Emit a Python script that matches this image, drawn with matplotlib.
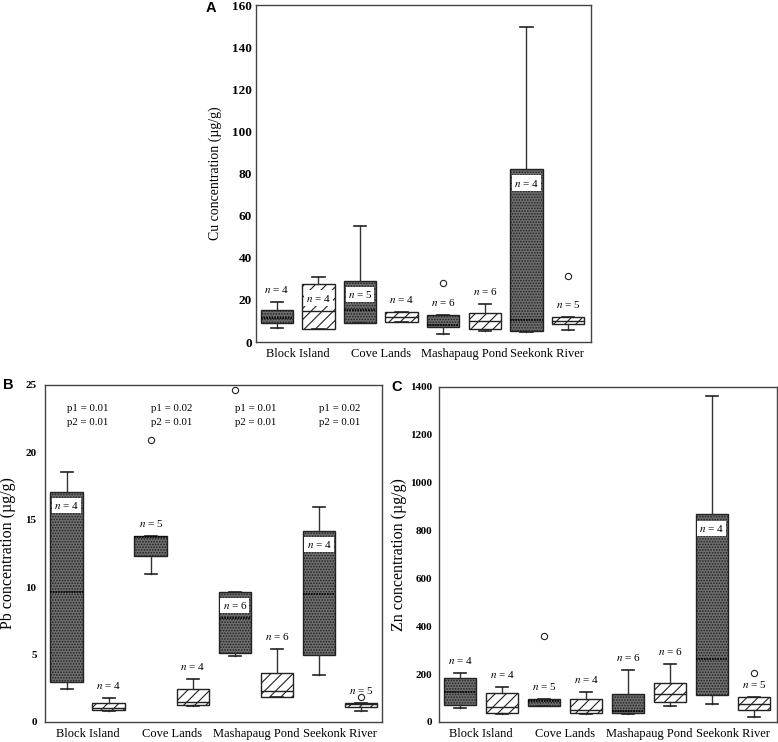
import matplotlib
matplotlib.use('Agg')
import matplotlib.pyplot as plt
import matplotlib.transforms as mtransforms

plt.rcParams['font.family'] = ['Liberation Serif', 'DejaVu Serif']
plt.rcParams['mathtext.fontset'] = 'stix'
plt.rcParams['hatch.linewidth'] = 0.8

sites = ['Block Island', 'Cove Lands', 'Mashapaug Pond', 'Seekonk River']
n_samples = [4, 4, 5, 4, 6, 6, 4, 5]
dark = [True, False, True, False, True, False, True, False]

# A - Cu
cu_whislo = [6.8, 6.0, 9.0, 9.4, 3.8, 5.4, 4.9, 5.7]
cu_q1 = [8.9, 6.0, 9.2, 9.7, 7.3, 6.2, 5.2, 8.4]
cu_med = [11.2, 14.7, 15.2, 12.0, 8.1, 10.0, 10.4, 10.1]
cu_q3 = [15.2, 27.5, 29.1, 14.1, 12.8, 13.9, 82.1, 11.7]
cu_whishi = [19.1, 31.0, 55.2, 14.3, 12.8, 18.0, 149.7, 11.7]
cu_fliers = [[], [], [], [], [27.9], [], [], [31.5]]
cu_label_in = [False, True, True, False, False, False, True, False]

# B - Pb
pb_whislo = [2.42, 0.80, 10.95, 1.15, 4.90, 1.83, 3.51, 0.82]
pb_q1 = [2.94, 0.89, 12.31, 1.26, 5.09, 1.83, 4.94, 1.09]
pb_med = [9.62, 1.00, 13.70, 1.51, 7.72, 2.27, 9.47, 1.30]
pb_q3 = [17.08, 1.38, 13.82, 2.42, 9.67, 3.66, 14.19, 1.38]
pb_whishi = [18.57, 1.76, 13.82, 3.17, 9.67, 5.39, 15.92, 1.38]
pb_fliers = [[], [], [20.9], [], [24.6], [], [], [1.88]]
pb_label_in = [True, False, False, False, True, False, True, False]
p1_vals = ['0.01', '0.02', '0.01', '0.02']
p2_vals = ['0.01', '0.01', '0.01', '0.01']

# C - Zn
zn_whislo = [57, 33, 67, 33, 33, 68, 75, 22]
zn_q1 = [71, 39, 67, 36, 36, 85, 113, 50]
zn_med = [127, 64, 89, 50, 47, 117, 262, 75]
zn_q3 = [185, 123, 95, 95, 117, 164, 868, 103]
zn_whishi = [203, 148, 95, 127, 217, 242, 1362, 103]
zn_fliers = [[], [], [359], [], [], [], [], [206]]
zn_label_in = [False, False, False, False, False, False, True, False]


def draw_panel(ax, whislo, q1, med, q3, whishi, fliers, label_in,
               ymax, ystep, ylabel, tick_fs, label_fs, label_x, ypad):
    stats = []
    for i in range(len(med)):
        stats.append(dict(whislo=whislo[i], q1=q1[i], med=med[i], q3=q3[i],
                          whishi=whishi[i], fliers=fliers[i]))
    pos = list(range(1, len(stats) + 1))
    bp = ax.bxp(stats, positions=pos, widths=0.78, patch_artist=True,
                capwidths=0.3,
                whiskerprops=dict(color='#333333', lw=1.0),
                capprops=dict(color='#222222', lw=1.2),
                flierprops=dict(marker='o', markersize=4.5, markerfacecolor='white',
                                markeredgecolor='#222222', markeredgewidth=0.8))
    for i, box in enumerate(bp['boxes']):
        if dark[i]:
            box.set_facecolor('#6e6e6e')
            box.set_hatch('......')
            box.set_edgecolor('#222222')
            box.set_linewidth(1.0)
            bp['medians'][i].set(color='black', lw=1.2, linestyle=(0, (1, 0.6)))
        else:
            box.set_facecolor('white')
            box.set_hatch('///')
            box.set_edgecolor('#222222')
            box.set_linewidth(1.0)
            bp['medians'][i].set(color='#222222', lw=1.0, linestyle='-')
        box.set_zorder(2)

    for i in range(len(med)):
        txt = '$n$ = %d' % n_samples[i]
        if label_in[i]:
            ax.annotate(txt, (pos[i], q3[i]), xytext=(0, -10), textcoords='offset points',
                        ha='center', va='center', fontsize=8, zorder=5,
                        bbox=dict(facecolor='white', edgecolor='none', pad=1.5))
        else:
            ax.annotate(txt, (pos[i], max(q3[i], whishi[i])), xytext=(0, 5),
                        textcoords='offset points', ha='center', va='bottom',
                        fontsize=8, zorder=5)

    ax.set_ylim(0, ymax)
    ax.set_yticks(range(0, ymax + 1, ystep))
    ax.set_xticks([1.5, 3.5, 5.5, 7.5])
    ax.set_xticklabels(sites, fontsize=9)
    ax.tick_params(axis='both', length=0)
    ax.tick_params(axis='y', pad=ypad)
    ax.tick_params(axis='x', pad=4)
    for lab in ax.get_yticklabels():
        lab.set_fontweight('bold')
        lab.set_fontsize(tick_fs)
    ax.set_ylabel(ylabel, fontsize=label_fs)
    ax.yaxis.set_label_coords(label_x, 0.5)
    for sp in ax.spines.values():
        sp.set_color('#444444')
        sp.set_linewidth(1.0)


fig = plt.figure(figsize=(7.78, 7.42), dpi=100)
ax_a = fig.add_axes([0.329, 0.539, 0.4306, 0.4542])
ax_b = fig.add_axes([0.0578, 0.027, 0.4332, 0.4542])
ax_c = fig.add_axes([0.5643, 0.027, 0.4344, 0.4515])

draw_panel(ax_a, cu_whislo, cu_q1, cu_med, cu_q3, cu_whishi, cu_fliers, cu_label_in,
           160, 20, 'Cu concentration (µg/g)', 9.5, 10, -0.10, 3)
ax_a.set_xlim(0.5, 8.55)
draw_panel(ax_b, pb_whislo, pb_q1, pb_med, pb_q3, pb_whishi, pb_fliers, pb_label_in,
           25, 5, 'Pb concentration (µg/g)', 8, 11.5, -0.086, 6)
ax_b.set_xlim(0.48, 8.5)
draw_panel(ax_c, zn_whislo, zn_q1, zn_med, zn_q3, zn_whishi, zn_fliers, zn_label_in,
           1400, 200, 'Zn concentration (µg/g)', 8, 11.5, -0.095, 5)
ax_c.set_xlim(0.5, 8.55)

trans = mtransforms.blended_transform_factory(ax_b.transData, ax_b.transAxes)
for k in range(4):
    ax_b.text(1.5 + 2 * k, 0.93, 'p1 = ' + p1_vals[k], transform=trans,
              ha='center', va='center', fontsize=7.8)
    ax_b.text(1.5 + 2 * k, 0.89, 'p2 = ' + p2_vals[k], transform=trans,
              ha='center', va='center', fontsize=7.8)

fig.text(206 / 778, 1 - 8 / 742, 'A', family='Liberation Sans', weight='bold',
         fontsize=10.5, ha='left', va='center')
fig.text(3 / 778, 1 - 385 / 742, 'B', family='Liberation Sans', weight='bold',
         fontsize=10.5, ha='left', va='center')
fig.text(391 / 778, 1 - 387 / 742, 'C', family='Liberation Sans', weight='bold',
         fontsize=10.5, ha='left', va='center')

fig.savefig('out.png', dpi=100)
